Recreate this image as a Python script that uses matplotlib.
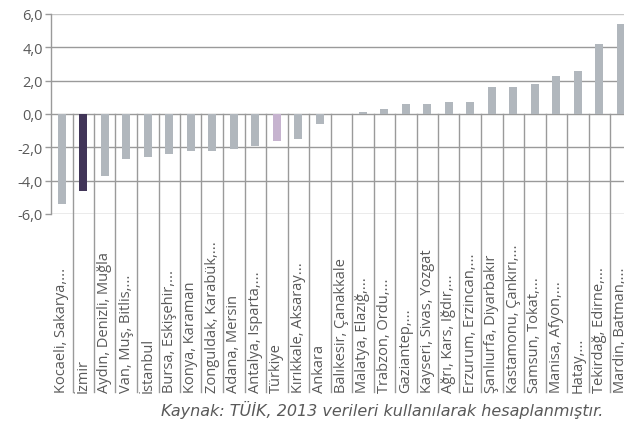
import matplotlib
matplotlib.use("Agg")
import matplotlib.pyplot as plt
from matplotlib.lines import Line2D

categories = [
    "Kocaeli, Sakarya,...", "İzmir", "Aydın, Denizli, Muğla", "Van, Muş, Bitlis,...",
    "İstanbul", "Bursa, Eskişehir,...", "Konya, Karaman", "Zonguldak, Karabük,...",
    "Adana, Mersin", "Antalya, Isparta,...", "Türkiye", "Kırıkkale, Aksaray...",
    "Ankara", "Balıkesir, Çanakkale", "Malatya, Elazığ,...", "Trabzon, Ordu,...",
    "Gaziantep,...", "Kayseri, Sivas, Yozgat", "Ağrı, Kars, Iğdır,...",
    "Erzurum, Erzincan,...", "Şanlıurfa, Diyarbakır", "Kastamonu, Çankırı,...",
    "Samsun, Tokat,...", "Manisa, Afyon,...", "Hatay,...", "Tekirdağ, Edirne,...",
    "Mardin, Batman,...",
]
values = [-5.4, -4.6, -3.7, -2.7, -2.6, -2.4, -2.2, -2.2, -2.1, -1.9, -1.6, -1.5,
          -0.6, 0.0, 0.1, 0.3, 0.6, 0.6, 0.7, 0.7, 1.6, 1.6, 1.8, 2.3, 2.6, 4.2, 5.4]
yticks = [-6, -4, -2, 0, 2, 4, 6]
ytick_labels = ["-6,0", "-4,0", "-2,0", "0,0", "2,0", "4,0", "6,0"]
caption = "Kaynak: TÜİK, 2013 verileri kullanılarak hesaplanmıştır."

W, H = 624, 427
fig = plt.figure(figsize=(W / 100, H / 100), dpi=100)
left_px, step_px = 51, 21.5
n = len(categories)
ax_w = n * step_px
ax = fig.add_axes([left_px / W, (H - 215) / H, ax_w / W, 200 / H])
ax.patch.set_visible(False)

base = "#b1b7bd"
colors = [base] * n
colors[categories.index("İzmir")] = "#413558"
colors[categories.index("Türkiye")] = "#c6b3cf"

x = list(range(n))
ax.bar(x, values, width=0.37, color=colors, zorder=3)
ax.set_xlim(-0.5, n - 0.5)
ax.set_ylim(-6, 6)

for yv in yticks:
    c = "#c8c8c8" if yv == 6 else "#9a9a9a"
    ax.axhline(yv, color=c, lw=1.0, zorder=1)

for s in ["top", "right", "bottom"]:
    ax.spines[s].set_visible(False)
ax.spines["left"].set_color("#9a9a9a")
ax.spines["left"].set_linewidth(1.0)

ax.set_yticks(yticks)
ax.set_yticklabels(ytick_labels, fontsize=10.5, color="#595959", family="Open Sans")
ax.tick_params(axis="y", length=4, width=1.0, color="#9a9a9a", pad=2)
ax.set_xticks([])

# category separators from y=0 down into the label area
trans = ax.transData
inv = fig.transFigure.inverted()
label_bottom_fig = (H - 393) / H
for i in range(1, n):
    xd = i - 0.5
    x_fig, y0_fig = inv.transform(trans.transform((xd, 0)))
    fig.add_artist(Line2D([x_fig, x_fig], [label_bottom_fig, y0_fig],
                          color="#9a9a9a", lw=1.0, zorder=2))

for i, lab in enumerate(categories):
    x_fig, _ = inv.transform(trans.transform((i, 0)))
    fig.text(x_fig, label_bottom_fig, lab, rotation=90, ha="center", va="bottom",
             fontsize=10.5, color="#595959", family="Open Sans")

fig.text(382 / W, (H - 410) / H, caption, ha="center", va="center",
         fontsize=11.5, style="italic", color="#595959", family="DejaVu Sans")

fig.savefig("out.png", dpi=100)
